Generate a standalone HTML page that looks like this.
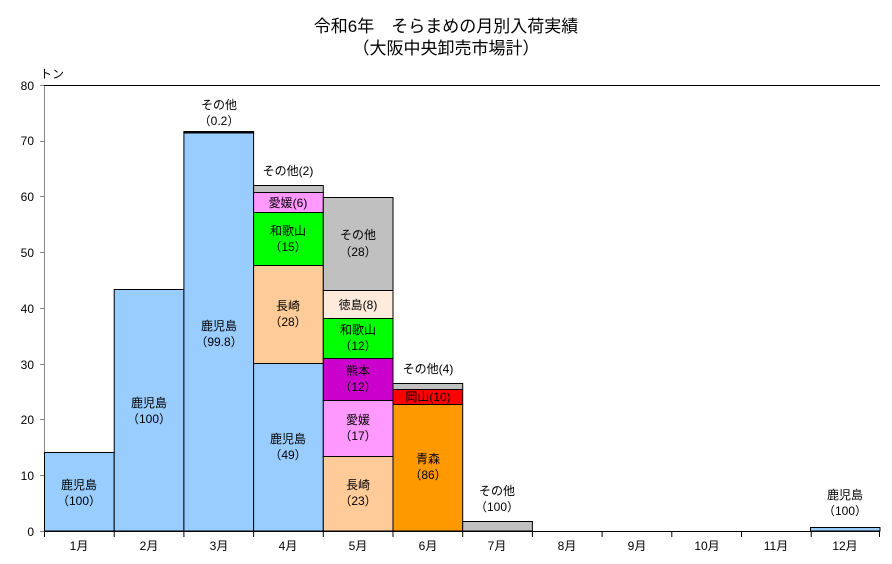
<!DOCTYPE html><html><head><meta charset="utf-8"><style>
body{margin:0;background:#fff;}
svg text{font-family:"Liberation Sans","Noto Sans CJK JP",sans-serif;fill:#000;}
</style></head><body>
<svg width="892" height="559" xmlns="http://www.w3.org/2000/svg">
<text x="446" y="32" font-size="17" text-anchor="middle">令和6年　そらまめの月別入荷実績</text>
<text x="446" y="54" font-size="17" text-anchor="middle">（大阪中央卸売市場計）</text>
<text x="40" y="78" font-size="12">トン</text>
<g font-size="12" text-anchor="end">
<text x="34" y="90">80</text><text x="34" y="145">70</text><text x="34" y="201">60</text><text x="34" y="257">50</text><text x="34" y="313">40</text><text x="34" y="369">30</text><text x="34" y="424">20</text><text x="34" y="480">10</text><text x="34" y="536">0</text>
</g>
<g stroke="#888" stroke-width="1">
<line x1="44.5" y1="85" x2="44.5" y2="531"/>
<line x1="40" y1="85.5" x2="44" y2="85.5"/><line x1="40" y1="141.5" x2="44" y2="141.5"/><line x1="40" y1="196.5" x2="44" y2="196.5"/><line x1="40" y1="252.5" x2="44" y2="252.5"/><line x1="40" y1="308.5" x2="44" y2="308.5"/><line x1="40" y1="364.5" x2="44" y2="364.5"/><line x1="40" y1="419.5" x2="44" y2="419.5"/><line x1="40" y1="475.5" x2="44" y2="475.5"/><line x1="40" y1="531.5" x2="44" y2="531.5"/>
</g>
<line x1="44" y1="85.5" x2="880" y2="85.5" stroke="#000"/>
<g stroke="#000" stroke-width="1">
<rect x="44.5" y="452.5" width="69.7" height="78.5" fill="#99ccff"/>
<rect x="114.2" y="289.5" width="69.7" height="241.5" fill="#99ccff"/>
<rect x="183.9" y="133" width="69.7" height="398" fill="#99ccff"/>
<rect x="183.9" y="131.5" width="69.7" height="1.5" fill="#000"/>
<rect x="253.6" y="363.5" width="69.7" height="167.5" fill="#99ccff"/>
<rect x="253.6" y="265.5" width="69.7" height="98" fill="#ffcc99"/>
<rect x="253.6" y="212.5" width="69.7" height="53" fill="#00ff00"/>
<rect x="253.6" y="192.5" width="69.7" height="20" fill="#ff99ff"/>
<rect x="253.6" y="185.5" width="69.7" height="7" fill="#c0c0c0"/>
<rect x="323.3" y="456.5" width="69.7" height="74.5" fill="#ffcc99"/>
<rect x="323.3" y="400.5" width="69.7" height="56" fill="#ff99ff"/>
<rect x="323.3" y="358.5" width="69.7" height="42" fill="#cc00cc"/>
<rect x="323.3" y="318.5" width="69.7" height="40" fill="#00ff00"/>
<rect x="323.3" y="290.5" width="69.7" height="28" fill="#ffebdc"/>
<rect x="323.3" y="197.5" width="69.7" height="93" fill="#c0c0c0"/>
<rect x="393" y="404.5" width="69.7" height="126.5" fill="#ff9900"/>
<rect x="393" y="389.5" width="69.7" height="15" fill="#ff0000"/>
<rect x="393" y="383.5" width="69.7" height="6" fill="#c0c0c0"/>
<rect x="462.7" y="521.5" width="69.7" height="9.5" fill="#c0c0c0"/>
<rect x="810.5" y="527.5" width="69.5" height="3.5" fill="#99ccff"/>
</g>
<line x1="44" y1="531.5" x2="880" y2="531.5" stroke="#000"/>
<g stroke="#000">
<line x1="44.5" y1="531" x2="44.5" y2="537"/><line x1="114.2" y1="531" x2="114.2" y2="537"/><line x1="183.9" y1="531" x2="183.9" y2="537"/><line x1="253.6" y1="531" x2="253.6" y2="537"/><line x1="323.3" y1="531" x2="323.3" y2="537"/><line x1="393" y1="531" x2="393" y2="537"/><line x1="462.7" y1="531" x2="462.7" y2="537"/><line x1="532.4" y1="531" x2="532.4" y2="537"/><line x1="602.1" y1="531" x2="602.1" y2="537"/><line x1="671.8" y1="531" x2="671.8" y2="537"/><line x1="741.5" y1="531" x2="741.5" y2="537"/><line x1="811.2" y1="531" x2="811.2" y2="537"/><line x1="879.5" y1="531" x2="879.5" y2="537"/>
</g>
<g font-size="12" text-anchor="middle">
<text x="79" y="550">1月</text><text x="149" y="550">2月</text><text x="219" y="550">3月</text><text x="288" y="550">4月</text><text x="358" y="550">5月</text><text x="428" y="550">6月</text><text x="497" y="550">7月</text><text x="567" y="550">8月</text><text x="637" y="550">9月</text><text x="707" y="550">10月</text><text x="776" y="550">11月</text><text x="845" y="550">12月</text>
</g>
<g font-size="12" text-anchor="middle">
<text x="79" y="489">鹿児島</text><text x="79" y="505">（100）</text>
<text x="149" y="407">鹿児島</text><text x="149" y="423">（100）</text>
<text x="219" y="330">鹿児島</text><text x="219" y="346">（99.8）</text>
<text x="219" y="109">その他</text><text x="219" y="125">（0.2）</text>
<text x="288" y="443">鹿児島</text><text x="288" y="459">（49）</text>
<text x="288" y="310">長崎</text><text x="288" y="326">（28）</text>
<text x="288" y="235">和歌山</text><text x="288" y="251">（15）</text>
<text x="288" y="207">愛媛(6)</text>
<text x="288" y="175">その他(2)</text>
<text x="358" y="489">長崎</text><text x="358" y="505">（23）</text>
<text x="358" y="424">愛媛</text><text x="358" y="440">（17）</text>
<text x="358" y="375">熊本</text><text x="358" y="391">（12）</text>
<text x="358" y="334">和歌山</text><text x="358" y="350">（12）</text>
<text x="358" y="309">徳島(8)</text>
<text x="358" y="239">その他</text><text x="358" y="256">（28）</text>
<text x="428" y="463">青森</text><text x="428" y="479">（86）</text>
<text x="428" y="401">岡山(10)</text>
<text x="428" y="373">その他(4)</text>
<text x="497" y="495">その他</text><text x="497" y="511">（100）</text>
<text x="845" y="499">鹿児島</text><text x="845" y="515">（100）</text>
</g>
</svg>
</body></html>
